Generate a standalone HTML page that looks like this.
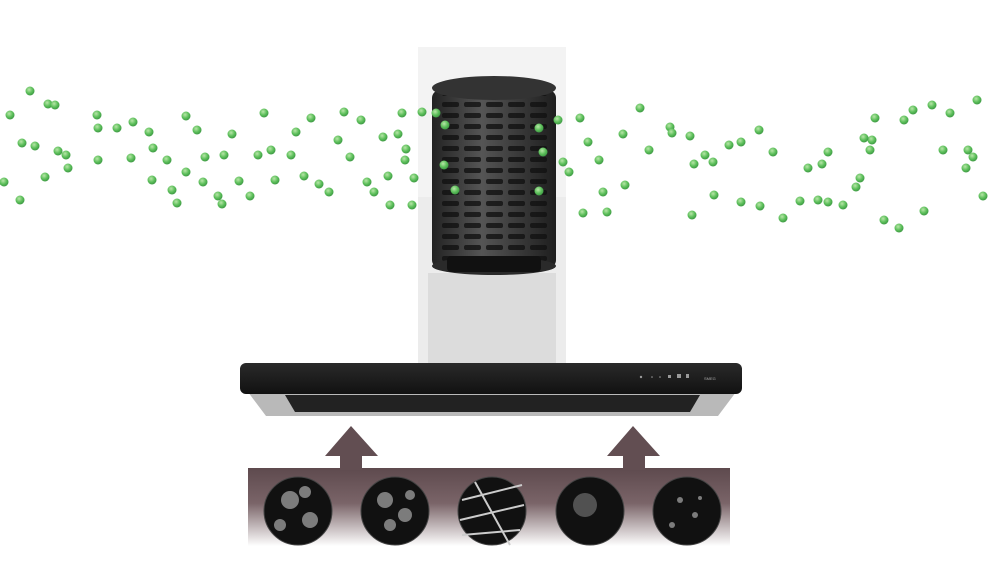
<!DOCTYPE html>
<html><head><style>body{margin:0;background:#fff}svg{display:block}</style></head><body>
<svg width="994" height="580" viewBox="0 0 994 580" xmlns="http://www.w3.org/2000/svg">
<defs>
<radialGradient id="g" cx="0.4" cy="0.35" r="0.65"><stop offset="0" stop-color="#b8e6a8"/><stop offset="0.6" stop-color="#5cbf5a"/><stop offset="1" stop-color="#3f9a45"/></radialGradient>
<linearGradient id="band" x1="0" y1="0" x2="0" y2="1"><stop offset="0" stop-color="#5e4a4e"/><stop offset="0.45" stop-color="#7a6468"/><stop offset="1" stop-color="#ffffff"/></linearGradient>
<linearGradient id="hood" x1="0" y1="0" x2="0" y2="1"><stop offset="0" stop-color="#2a2a2a"/><stop offset="1" stop-color="#111"/></linearGradient>
<linearGradient id="cyl" x1="0" y1="0" x2="1" y2="0"><stop offset="0" stop-color="#222"/><stop offset="0.4" stop-color="#555"/><stop offset="1" stop-color="#1e1e1e"/></linearGradient>
<pattern id="slots" width="22" height="11" patternUnits="userSpaceOnUse"><rect x="2" y="3" width="17" height="5" rx="2" fill="#111"/></pattern>
</defs>
<!-- chimney -->
<rect x="418" y="47" width="148" height="316" fill="#ececec"/>
<rect x="418" y="47" width="148" height="150" fill="#f3f3f3"/>
<rect x="428" y="273" width="128" height="90" fill="#dcdcdc"/>
<!-- filter -->
<rect x="432" y="90" width="124" height="178" rx="8" fill="url(#cyl)"/>
<rect x="440" y="95" width="108" height="168" fill="url(#slots)" opacity="0.8"/>
<ellipse cx="494" cy="88" rx="62" ry="12" fill="#333"/>
<ellipse cx="494" cy="266" rx="62" ry="9" fill="#2a2a2a"/>
<rect x="447" y="256" width="94" height="16" rx="4" fill="#111"/>
<!-- hood -->
<polygon points="248,392 736,392 718,416 266,416" fill="#b9b9b9"/>
<polygon points="285,395 700,395 690,412 295,412" fill="#222"/>
<rect x="240" y="363" width="502" height="31" rx="6" fill="url(#hood)"/>
<text x="704" y="380" font-family="Liberation Sans" font-size="4" fill="#aaa">SMEG</text>
<g fill="#999"><circle cx="641" cy="377" r="1.2"/><circle cx="652" cy="377" r="0.8"/><circle cx="660" cy="377" r="0.8"/><rect x="668" y="375" width="3" height="3"/><rect x="677" y="374" width="4" height="4"/><rect x="686" y="374" width="3" height="4"/></g>
<!-- band & arrows -->
<rect x="248" y="468" width="482" height="78" fill="url(#band)"/>
<polygon points="325,456 351,426 378,456 362,456 362,470 340,470 340,456" fill="#624e52"/>
<polygon points="607,456 633,426 660,456 645,456 645,470 623,470 623,456" fill="#624e52"/>
<g fill="#111" stroke="#444" stroke-width="1">
<circle cx="298" cy="511" r="34"/><circle cx="395" cy="511" r="34"/><circle cx="492" cy="511" r="34"/><circle cx="590" cy="511" r="34"/><circle cx="687" cy="511" r="34"/></g>
<g fill="#aaa" opacity="0.7"><circle cx="290" cy="500" r="9"/><circle cx="310" cy="520" r="8"/><circle cx="280" cy="525" r="6"/><circle cx="305" cy="492" r="6"/>
<circle cx="385" cy="500" r="8"/><circle cx="405" cy="515" r="7"/><circle cx="390" cy="525" r="6"/><circle cx="410" cy="495" r="5"/>
<circle cx="585" cy="505" r="12" opacity="0.6"/><circle cx="680" cy="500" r="3"/><circle cx="695" cy="515" r="3"/><circle cx="672" cy="525" r="3"/><circle cx="700" cy="498" r="2"/></g>
<g stroke="#ccc" stroke-width="2"><line x1="462" y1="500" x2="522" y2="485"/><line x1="460" y1="520" x2="524" y2="505"/><line x1="475" y1="482" x2="510" y2="545"/><line x1="462" y1="535" x2="520" y2="530"/></g>
<!-- green dots -->
<g fill="url(#g)">
<circle cx="30" cy="91" r="4.5"/><circle cx="48" cy="104" r="4.5"/><circle cx="55" cy="105" r="4.5"/><circle cx="10" cy="115" r="4.5"/><circle cx="22" cy="143" r="4.5"/><circle cx="35" cy="146" r="4.5"/><circle cx="58" cy="151" r="4.5"/><circle cx="66" cy="155" r="4.5"/><circle cx="4" cy="182" r="4.5"/><circle cx="45" cy="177" r="4.5"/><circle cx="20" cy="200" r="4.5"/><circle cx="68" cy="168" r="4.5"/>
<circle cx="97" cy="115" r="4.5"/><circle cx="98" cy="128" r="4.5"/><circle cx="117" cy="128" r="4.5"/><circle cx="133" cy="122" r="4.5"/><circle cx="149" cy="132" r="4.5"/><circle cx="98" cy="160" r="4.5"/><circle cx="131" cy="158" r="4.5"/><circle cx="153" cy="148" r="4.5"/><circle cx="167" cy="160" r="4.5"/><circle cx="152" cy="180" r="4.5"/><circle cx="172" cy="190" r="4.5"/><circle cx="177" cy="203" r="4.5"/><circle cx="186" cy="172" r="4.5"/>
<circle cx="186" cy="116" r="4.5"/><circle cx="197" cy="130" r="4.5"/><circle cx="232" cy="134" r="4.5"/><circle cx="205" cy="157" r="4.5"/><circle cx="224" cy="155" r="4.5"/><circle cx="258" cy="155" r="4.5"/><circle cx="271" cy="150" r="4.5"/><circle cx="203" cy="182" r="4.5"/><circle cx="218" cy="196" r="4.5"/><circle cx="222" cy="204" r="4.5"/><circle cx="239" cy="181" r="4.5"/><circle cx="250" cy="196" r="4.5"/><circle cx="264" cy="113" r="4.5"/>
<circle cx="296" cy="132" r="4.5"/><circle cx="291" cy="155" r="4.5"/><circle cx="311" cy="118" r="4.5"/><circle cx="275" cy="180" r="4.5"/><circle cx="304" cy="176" r="4.5"/><circle cx="319" cy="184" r="4.5"/><circle cx="329" cy="192" r="4.5"/><circle cx="344" cy="112" r="4.5"/><circle cx="338" cy="140" r="4.5"/><circle cx="350" cy="157" r="4.5"/><circle cx="361" cy="120" r="4.5"/><circle cx="367" cy="182" r="4.5"/><circle cx="374" cy="192" r="4.5"/><circle cx="383" cy="137" r="4.5"/><circle cx="388" cy="176" r="4.5"/><circle cx="398" cy="134" r="4.5"/><circle cx="402" cy="113" r="4.5"/><circle cx="406" cy="149" r="4.5"/><circle cx="405" cy="160" r="4.5"/><circle cx="412" cy="205" r="4.5"/><circle cx="390" cy="205" r="4.5"/><circle cx="414" cy="178" r="4.5"/><circle cx="422" cy="112" r="4.5"/><circle cx="436" cy="113" r="4.5"/><circle cx="445" cy="125" r="4.5"/><circle cx="444" cy="165" r="4.5"/><circle cx="455" cy="190" r="4.5"/>
<circle cx="539" cy="128" r="4.5"/><circle cx="543" cy="152" r="4.5"/><circle cx="539" cy="191" r="4.5"/><circle cx="558" cy="120" r="4.5"/><circle cx="563" cy="162" r="4.5"/><circle cx="569" cy="172" r="4.5"/><circle cx="580" cy="118" r="4.5"/><circle cx="588" cy="142" r="4.5"/><circle cx="583" cy="213" r="4.5"/><circle cx="599" cy="160" r="4.5"/><circle cx="603" cy="192" r="4.5"/><circle cx="607" cy="212" r="4.5"/><circle cx="625" cy="185" r="4.5"/><circle cx="623" cy="134" r="4.5"/><circle cx="640" cy="108" r="4.5"/><circle cx="649" cy="150" r="4.5"/><circle cx="670" cy="127" r="4.5"/><circle cx="672" cy="133" r="4.5"/><circle cx="690" cy="136" r="4.5"/><circle cx="694" cy="164" r="4.5"/><circle cx="705" cy="155" r="4.5"/><circle cx="713" cy="162" r="4.5"/><circle cx="714" cy="195" r="4.5"/><circle cx="692" cy="215" r="4.5"/><circle cx="729" cy="145" r="4.5"/><circle cx="741" cy="142" r="4.5"/><circle cx="759" cy="130" r="4.5"/><circle cx="741" cy="202" r="4.5"/><circle cx="760" cy="206" r="4.5"/><circle cx="773" cy="152" r="4.5"/><circle cx="783" cy="218" r="4.5"/><circle cx="800" cy="201" r="4.5"/><circle cx="808" cy="168" r="4.5"/><circle cx="822" cy="164" r="4.5"/><circle cx="828" cy="152" r="4.5"/><circle cx="818" cy="200" r="4.5"/><circle cx="828" cy="202" r="4.5"/><circle cx="843" cy="205" r="4.5"/><circle cx="856" cy="187" r="4.5"/><circle cx="860" cy="178" r="4.5"/><circle cx="870" cy="150" r="4.5"/><circle cx="875" cy="118" r="4.5"/><circle cx="872" cy="140" r="4.5"/><circle cx="864" cy="138" r="4.5"/><circle cx="904" cy="120" r="4.5"/><circle cx="913" cy="110" r="4.5"/><circle cx="932" cy="105" r="4.5"/><circle cx="950" cy="113" r="4.5"/><circle cx="943" cy="150" r="4.5"/><circle cx="968" cy="150" r="4.5"/><circle cx="973" cy="157" r="4.5"/><circle cx="977" cy="100" r="4.5"/><circle cx="966" cy="168" r="4.5"/><circle cx="884" cy="220" r="4.5"/><circle cx="899" cy="228" r="4.5"/><circle cx="924" cy="211" r="4.5"/><circle cx="983" cy="196" r="4.5"/>
</g>
</svg>
</body></html>
